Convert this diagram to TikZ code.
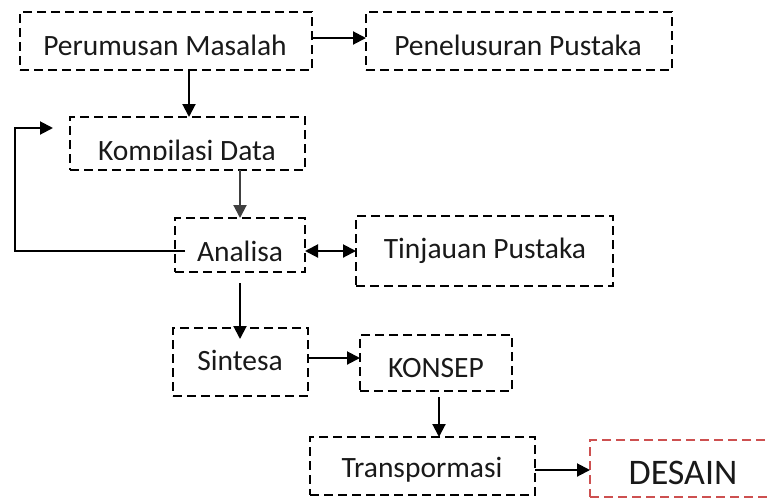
\documentclass[tikz,border=0pt]{standalone}
\usepackage{fontspec}
\setmainfont{Carlito}
\usetikzlibrary{arrows.meta,calc}
\definecolor{dred}{RGB}{205,80,80}
\tikzset{
  box/.style={draw=black, line width=2.2pt, dash pattern=on 9pt off 5pt, inner sep=0pt, outer sep=0pt, rectangle},
  lbl/.style={inner sep=0pt, font=\fontsize{29.5}{31}\selectfont, text=black!90},
  arr/.style={line width=2pt, -{Triangle[length=13pt,width=13pt]}},
  darr/.style={line width=2pt, {Triangle[length=13pt,width=13pt]}-{Triangle[length=13pt,width=13pt]}},
}
\begin{document}
\begin{tikzpicture}[x=1pt,y=-1pt]
\useasboundingbox (0,0) rectangle (770,499);
% boxes
\node[box, minimum width=292pt, minimum height=58pt] (pm) at (166,41) {};
\node[box, minimum width=306pt, minimum height=58pt] (pp) at (519,41) {};
\node[box, minimum width=235pt, minimum height=53pt] (kd) at (187.5,143.5) {};
\node[box, minimum width=130pt, minimum height=54pt] (an) at (240,245) {};
\node[box, minimum width=257pt, minimum height=70pt] (tp) at (484.5,251) {};
\node[box, minimum width=135pt, minimum height=68pt] (si) at (240.5,362) {};
\node[box, minimum width=152pt, minimum height=56pt] (ko) at (436,363) {};
\node[box, minimum width=225pt, minimum height=58pt] (tr) at (422.5,466) {};
\node[box, draw=dred, line width=1.6pt, minimum width=185pt, minimum height=57pt] (de) at (682.5,468.5) {};
% labels
\node[lbl] (tpm) at (165,45) {Perumusan Masalah};
\node[lbl] (tpp) at (518,45) {Penelusuran Pustaka};
\begin{scope}
\clip (60,110) rectangle (320,159);
\node[lbl] (tkd) at (187,153) {Kompilasi Data};
\end{scope}
\node[lbl] (tan) at (240,251) {Analisa};
\node[lbl] (ttp) at (485,251) {Tinjauan Pustaka};
\node[lbl] (tsi) at (240,360) {Sintesa};
\node[lbl] (tko) at (436,368) {KONSEP};
\node[lbl] (ttr) at (422,470) {Transpormasi};
\node[lbl, font=\fontsize{36}{38}\selectfont] (tde) at (683,473) {DESAIN};
% connectors
\coordinate (fb) at (53,128);
\draw[arr] ([yshift=3pt]pm.east) -- ([yshift=3pt]pp.west);
\draw[arr] ([xshift=23pt]pm.south) -- ([xshift=23pt]pm.south |- kd.north);
\draw[arr, draw=black!75] ([xshift=52.5pt]kd.south) -- ([xshift=52.5pt]kd.south |- an.north);
\draw[line width=2pt, -{Triangle[length=13pt,width=13pt]}] ([xshift=10pt,yshift=-6pt]an.west) -| (15,128) -- (fb);
\draw[darr] ([yshift=-6pt]an.east) -- ([yshift=-6pt]an.east -| tp.west);
\draw[arr] ([yshift=-11pt]an.south) -- ([yshift=-11pt]an.south |- si.north);
\draw[arr] ([yshift=4pt]si.east) -- ([yshift=4pt]si.east -| ko.west);
\draw[arr] ([xshift=3pt,yshift=-6pt]ko.south) -- ([xshift=3pt]ko.south |- tr.north);
\draw[arr] ([yshift=-4pt]tr.east) -- ([yshift=-4pt]tr.east -| de.west);
\end{tikzpicture}
\end{document}
